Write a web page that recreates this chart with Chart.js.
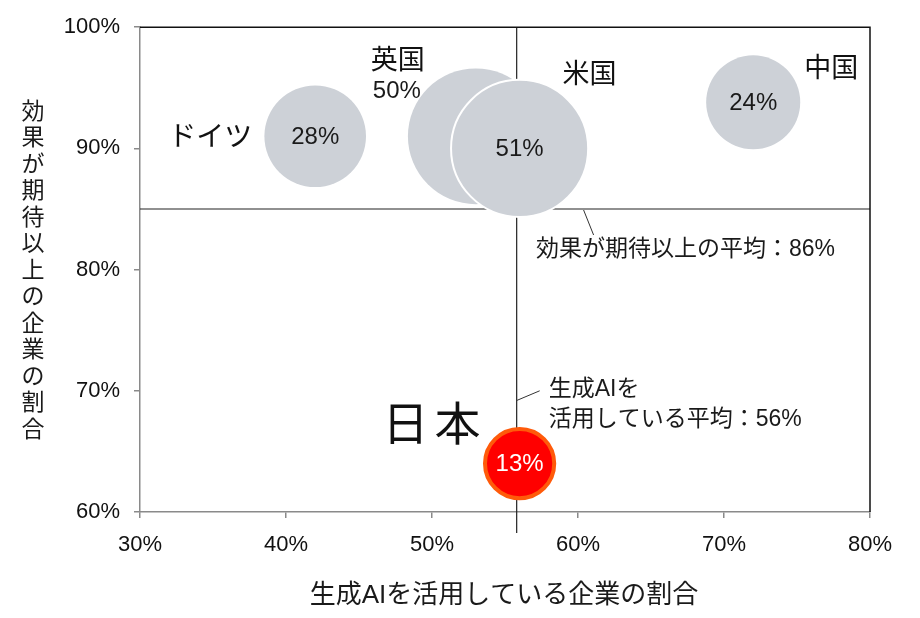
<!DOCTYPE html>
<html>
<head>
<meta charset="utf-8">
<script src="https://cdn.jsdelivr.net/npm/chart.js@4.4.1/dist/chart.umd.min.js"></script>
<style>
  html, body { margin: 0; padding: 0; background: #fff; }
  #wrap { width: 920px; height: 618px; }
</style>
</head>
<body>
<div id="wrap"><canvas id="aiChart"></canvas></div>
<script>
// DATA
const countries = ["ドイツ", "英国", "米国", "中国", "日本"];
const usageRate = [42, 53, 56, 72, 56];        // 生成AIを活用している企業の割合 (%)
const effectRate = [91, 91, 90, 93.8, 64];     // 効果が期待以上の企業の割合 (%)
const shareLabels = [28, 50, 51, 24, 13];      // bubble size values (%)
const avgUsage = 55.8;
const avgEffect = 85;
const avgEffectText = "効果が期待以上の平均：86%";
const avgUsageText = ["生成AIを", "活用している平均：56%"];
const xTitle = "生成AIを活用している企業の割合";
const yTitle = "効果が期待以上の企業の割合";

const latin = "'Liberation Sans', 'Noto Sans CJK JP', sans-serif";
const jp = "'Noto Sans CJK JP', sans-serif";

const bubbleGray = "#CDD1D7";
const fills = [bubbleGray, bubbleGray, bubbleGray, bubbleGray, "#FF0000"];
const borders = ["#FFFFFF", "#FFFFFF", "#FFFFFF", "#FFFFFF", "#FF5A0A"];
const borderWidths = [0, 0, 2, 0, 4];

// label offsets from bubble centre
const nameStyle = [
    { dx: -105, dy: -1, size: 28 },
    { dx: -78, dy: -78, size: 27 },
    { dx: 70, dy: -76, size: 27 },
    { dx: 78, dy: -36, size: 27 },
    { dx: -88, dy: -41, size: 46, spacing: 6 }
];

const points = usageRate.map((x, i) => ({
    x: x,
    y: effectRate[i],
    r: 9.6 * Math.sqrt(shareLabels[i])
}));

// REFERENCE LINES (behind bubbles)
const refLines = {
    id: "refLines",
    beforeDatasetsDraw(chart) {
        const { ctx, chartArea, scales } = chart;
        const xv = scales.x.getPixelForValue(avgUsage);
        const yv = scales.y.getPixelForValue(avgEffect);
        ctx.save();
        ctx.strokeStyle = "#222";
        ctx.lineWidth = 1.2;
        ctx.beginPath();
        ctx.moveTo(xv, chartArea.top);
        ctx.lineTo(xv, chartArea.bottom + 21);
        ctx.moveTo(chartArea.left, yv);
        ctx.lineTo(chartArea.right, yv);
        ctx.stroke();

        // frame top / right
        ctx.strokeStyle = "#111";
        ctx.lineWidth = 1.5;
        ctx.beginPath();
        ctx.moveTo(chartArea.left, chartArea.top);
        ctx.lineTo(chartArea.right, chartArea.top);
        ctx.lineTo(chartArea.right, chartArea.bottom);
        ctx.stroke();
        ctx.restore();
    }
};

// LABELS
const labelPlugin = {
    id: "labelPlugin",
    afterDatasetsDraw(chart) {
        const { ctx, scales, chartArea } = chart;
        const meta = chart.getDatasetMeta(0);
        ctx.save();
        ctx.textAlign = "center";
        ctx.textBaseline = "middle";

        meta.data.forEach((pt, i) => {
            // value inside bubble (UK value sits outside, below its name)
            ctx.font = "24px " + latin;
            ctx.fillStyle = i === 4 ? "#FFFFFF" : "#1a1a1a";
            if (i === 1) {
                ctx.fillText(shareLabels[i] + "%", pt.x - 79, pt.y - 45);
            } else {
                ctx.fillText(shareLabels[i] + "%", pt.x, pt.y + 1);
            }

            const s = nameStyle[i];
            ctx.fillStyle = "#111";
            ctx.font = s.size + "px " + jp;
            if (s.spacing) {
                const chars = countries[i].split("");
                const total = chars.length * s.size + (chars.length - 1) * s.spacing;
                let cx = pt.x + s.dx - total / 2 + s.size / 2;
                chars.forEach(c => {
                    ctx.fillText(c, cx, pt.y + s.dy);
                    cx += s.size + s.spacing;
                });
            } else {
                ctx.fillText(countries[i], pt.x + s.dx, pt.y + s.dy);
            }
        });

        // average annotations
        const xv = scales.x.getPixelForValue(avgUsage);
        const yv = scales.y.getPixelForValue(avgEffect);
        const us = meta.data[2];

        ctx.strokeStyle = "#333";
        ctx.lineWidth = 1;
        ctx.beginPath();
        ctx.moveTo(us.x + 64, yv + 1);
        ctx.lineTo(us.x + 74, yv + 26);
        ctx.moveTo(xv, scales.y.getPixelForValue(69.2));
        ctx.lineTo(xv + 23, scales.y.getPixelForValue(70));
        ctx.stroke();

        ctx.textAlign = "left";
        ctx.fillStyle = "#1a1a1a";
        ctx.font = "23px " + latin;
        ctx.fillText(avgEffectText, 536, yv + 41);
        ctx.fillText(avgUsageText[0], xv + 32, scales.y.getPixelForValue(70) - 1);
        ctx.fillText(avgUsageText[1], xv + 32, scales.y.getPixelForValue(70) + 29);

        // axis titles
        ctx.textAlign = "center";
        ctx.font = "26px " + latin;
        ctx.fillText(xTitle, (chartArea.left + chartArea.right) / 2 - 1, 596);

        ctx.font = "23px " + jp;
        const ych = yTitle.split("");
        const step = 26.5;
        let yy = 110;
        ych.forEach(c => {
            ctx.fillText(c, 33, yy);
            yy += step;
        });
        ctx.restore();
    }
};

// CHART JS CONFIG
const configBlock = {
    type: "bubble",
    data: {
        datasets: [{
            data: points,
            backgroundColor: fills,
            borderColor: borders,
            borderWidth: borderWidths,
            hoverRadius: 0,
            clip: false
        }]
    },
    options: {
        responsive: true,
        maintainAspectRatio: false,
        animation: false,
        events: [],
        layout: { autoPadding: false, padding: { left: 0, top: 23, right: 50, bottom: 0 } },
        plugins: {
            legend: { display: false },
            tooltip: { enabled: false },
            title: { display: false }
        },
        scales: {
            x: {
                type: "linear",
                min: 30,
                max: 80,
                ticks: {
                    stepSize: 10,
                    padding: 14,
                    color: "#111",
                    font: { family: latin, size: 22 },
                    callback: v => v + "%"
                },
                grid: {
                    drawOnChartArea: false,
                    drawTicks: true,
                    tickLength: 6,
                    color: "#8a8a8a",
                    lineWidth: 1.5
                },
                border: { color: "#8a8a8a", width: 1.5 },
                afterFit: scale => { scale.height = 106; }
            },
            y: {
                type: "linear",
                min: 60,
                max: 100,
                ticks: {
                    stepSize: 10,
                    padding: 14,
                    color: "#111",
                    font: { family: latin, size: 22 },
                    callback: v => v + "%"
                },
                grid: {
                    drawOnChartArea: false,
                    drawTicks: true,
                    tickLength: 6,
                    color: "#8a8a8a",
                    lineWidth: 1.5
                },
                border: { color: "#8a8a8a", width: 1.5 },
                afterFit: scale => { scale.width = 140; }
            }
        }
    },
    plugins: [refLines, labelPlugin]
};

// RENDER
const aiChart = new Chart(document.getElementById("aiChart").getContext("2d"), configBlock);
</script>
</body>
</html>
